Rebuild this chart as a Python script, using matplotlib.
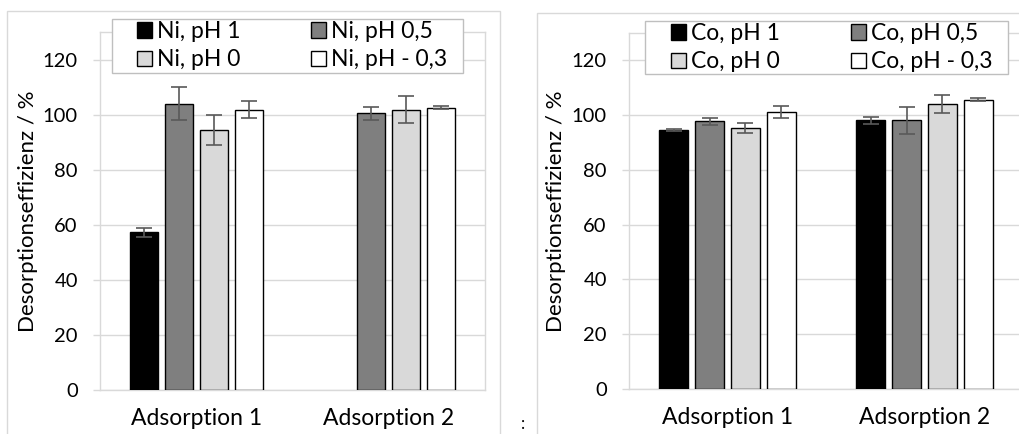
import numpy as np
import matplotlib
matplotlib.use("Agg")
import matplotlib.pyplot as plt
from matplotlib.patches import Rectangle

plt.rcParams["font.family"] = ["Lato", "DejaVu Sans"]

# data
groups = ["Adsorption 1", "Adsorption 2"]
ni_labels = ["Ni, pH 1", "Ni, pH 0,5", "Ni, pH 0", "Ni, pH - 0,3"]
co_labels = ["Co, pH 1", "Co, pH 0,5", "Co, pH 0", "Co, pH - 0,3"]

ni_vals = [[57.3, np.nan], [104.0, 100.5], [94.3, 101.8], [101.8, 102.5]]
ni_errs = [[1.7, np.nan], [6.0, 2.4], [5.5, 4.9], [3.2, 0.5]]
co_vals = [[94.6, 98.1], [97.8, 98.1], [95.3, 104.2], [101.1, 105.7]]
co_errs = [[0.3, 1.2], [1.3, 4.9], [1.8, 3.3], [2.1, 0.5]]

fills = ["#000000", "#7f7f7f", "#d9d9d9", "#ffffff"]
grid_c = "#d9d9d9"
W, H = 1020, 434

fig = plt.figure(figsize=(W / 100, H / 100), dpi=100)


def px(x0, y0, x1, y1):
    # pixel box (top-left origin) -> figure fraction rect
    return [x0 / W, 1 - y1 / H, (x1 - x0) / W, (y1 - y0) / H]


def panel(rect, vals, errs, labels, leg_box, leg_anchor, lab_x):
    ax = fig.add_axes(rect)
    x = np.arange(len(groups))
    step, bw = 0.182, 0.145
    for i in range(4):
        ax.bar(x + (i - 1.5) * step, vals[i], bw, yerr=errs[i], color=fills[i],
               edgecolor="black", linewidth=1.0, label=labels[i], zorder=3,
               error_kw=dict(ecolor="#595959", elinewidth=1.2, capsize=5.5, capthick=1.2, zorder=4))
    ax.set_xlim(-0.5, 1.5)
    ax.set_ylim(0, 130)
    ax.set_yticks(range(0, 121, 20))
    ax.set_xticks(x)
    ax.set_xticklabels(groups)
    ax.yaxis.grid(True, color=grid_c, linewidth=1.0, zorder=0)
    for s in ax.spines.values():
        s.set_color(grid_c)
        s.set_linewidth(1.0)
    ax.tick_params(axis="y", length=5, color=grid_c, width=1.0, pad=11, labelsize=14.5)
    ax.tick_params(axis="x", length=0, pad=13, labelsize=16.5)
    ax.set_ylabel("Desorptionseffizienz / %", fontsize=16)
    ax.yaxis.set_label_coords(lab_x, 0.5)

    fig.add_artist(Rectangle((leg_box[0], leg_box[1]), leg_box[2], leg_box[3],
                             transform=fig.transFigure, facecolor="white",
                             edgecolor="#bfbfbf", linewidth=1.0, zorder=5))
    h, l = ax.get_legend_handles_labels()
    order = [0, 2, 1, 3]  # row-wise like the original
    leg = fig.legend([h[k] for k in order], [l[k] for k in order], ncol=2,
                     loc="upper left", bbox_to_anchor=leg_anchor,
                     frameon=False, fontsize=16.5, borderpad=0, borderaxespad=0,
                     handlelength=0.65, handleheight=0.65, handletextpad=0.22,
                     columnspacing=3.1, labelspacing=0.32)
    leg.set_zorder(10)
    return ax


# outer chart borders
fig.add_artist(Rectangle((7 / W, -0.1), 493 / W, 1.1 - 11 / H, transform=fig.transFigure,
                         fill=False, edgecolor=grid_c, linewidth=1.0))
fig.add_artist(Rectangle((537 / W, -0.1), 600 / W, 1.1 - 13 / H, transform=fig.transFigure,
                         fill=False, edgecolor=grid_c, linewidth=1.0))

panel(px(100, 32, 485, 390), ni_vals, ni_errs, ni_labels,
      px(112, 19, 463, 73), (137 / W, 1 - 21 / H), -0.161)
panel(px(629, 33, 1023, 389), co_vals, co_errs, co_labels,
      px(645, 21, 1008, 74), (671 / W, 1 - 23 / H), -0.16)

fig.text(523 / W, 1 - 424 / H, ":", fontsize=12, ha="center", va="center")

fig.savefig("out.png", dpi=100)
